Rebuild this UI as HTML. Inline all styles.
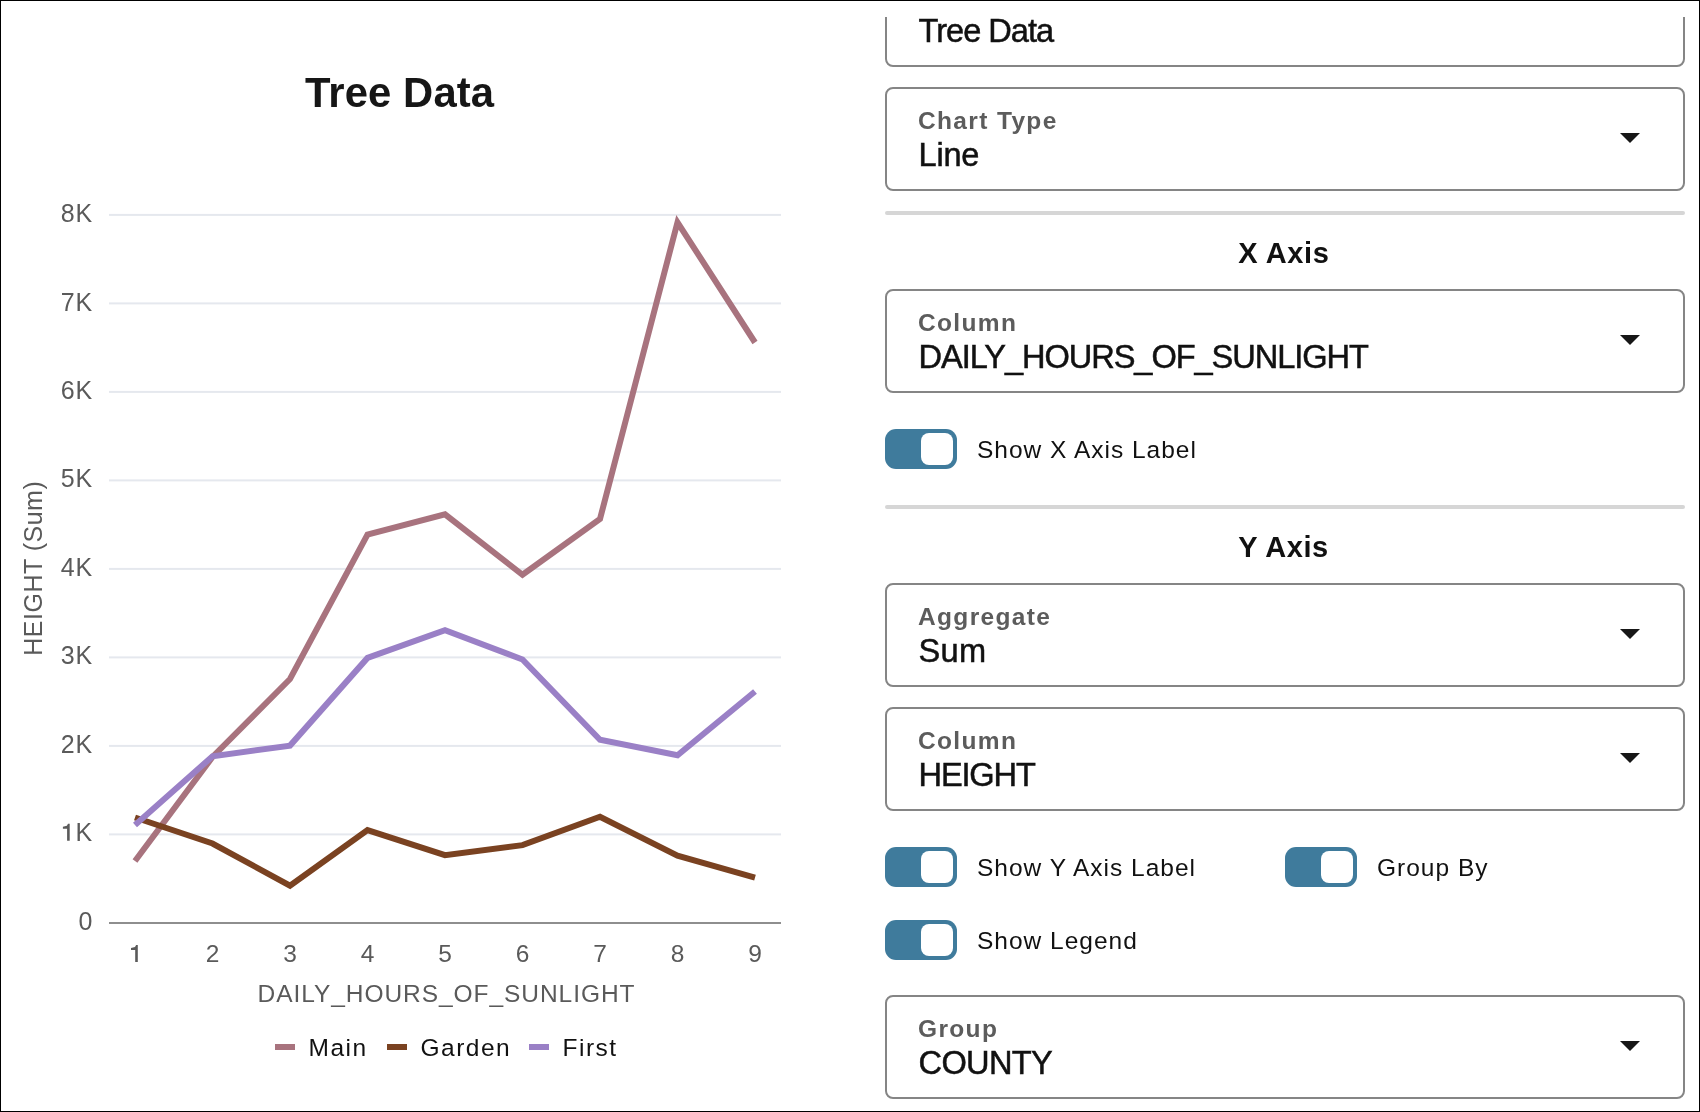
<!DOCTYPE html>
<html><head><meta charset="utf-8"><title>Tree Data chart</title>
<style>
html,body{margin:0;padding:0;background:#fff;}
body{width:1700px;height:1112px;overflow:hidden;position:relative;}
svg{display:block;font-family:"Liberation Sans", sans-serif;will-change:transform;}
.frame{position:absolute;left:0;top:0;width:1700px;height:1112px;box-sizing:border-box;border:1px solid #000;pointer-events:none;}
</style></head><body>
<svg width="1700" height="1112" viewBox="0 0 1700 1112">
<defs><clipPath id="clipTop"><rect x="0" y="17" width="1700" height="1112"/></clipPath></defs>
<rect width="1700" height="1112" fill="#fff"/>
<rect x="109" y="833.40" width="672" height="2" fill="#e5e8ee"/>
<rect x="109" y="744.90" width="672" height="2" fill="#e5e8ee"/>
<rect x="109" y="656.40" width="672" height="2" fill="#e5e8ee"/>
<rect x="109" y="567.90" width="672" height="2" fill="#e5e8ee"/>
<rect x="109" y="479.40" width="672" height="2" fill="#e5e8ee"/>
<rect x="109" y="390.90" width="672" height="2" fill="#e5e8ee"/>
<rect x="109" y="302.40" width="672" height="2" fill="#e5e8ee"/>
<rect x="109" y="213.90" width="672" height="2" fill="#e5e8ee"/>
<rect x="109" y="922" width="672" height="2" fill="#8e8e8e"/>
<text x="93.2" y="929.7" font-size="25" fill="#5a5a5a" text-anchor="end" letter-spacing="0.9">0</text>
<path d="M62.90 826.75L66.90 825.75L68.00 823.75L69.70 823.75L69.70 840.75L67.10 840.75L67.10 828.75L62.90 828.75Z" fill="#5a5a5a"/>
<text x="93.2" y="841.25" font-size="25" fill="#5a5a5a" text-anchor="end" letter-spacing="0.9">K</text>
<text x="93.2" y="752.8" font-size="25" fill="#5a5a5a" text-anchor="end" letter-spacing="0.9">2K</text>
<text x="93.2" y="664.35" font-size="25" fill="#5a5a5a" text-anchor="end" letter-spacing="0.9">3K</text>
<text x="93.2" y="575.9" font-size="25" fill="#5a5a5a" text-anchor="end" letter-spacing="0.9">4K</text>
<text x="93.2" y="487.45" font-size="25" fill="#5a5a5a" text-anchor="end" letter-spacing="0.9">5K</text>
<text x="93.2" y="399.0" font-size="25" fill="#5a5a5a" text-anchor="end" letter-spacing="0.9">6K</text>
<text x="93.2" y="310.55" font-size="25" fill="#5a5a5a" text-anchor="end" letter-spacing="0.9">7K</text>
<text x="93.2" y="222.1" font-size="25" fill="#5a5a5a" text-anchor="end" letter-spacing="0.9">8K</text>
<path d="M131.00 947.90L135.00 946.90L136.10 944.90L137.80 944.90L137.80 961.90L135.20 961.90L135.20 949.90L131.00 949.90Z" fill="#5a5a5a"/>
<text x="212.5" y="962" font-size="24.5" fill="#5a5a5a" text-anchor="middle">2</text>
<text x="290.0" y="962" font-size="24.5" fill="#5a5a5a" text-anchor="middle">3</text>
<text x="367.5" y="962" font-size="24.5" fill="#5a5a5a" text-anchor="middle">4</text>
<text x="445.0" y="962" font-size="24.5" fill="#5a5a5a" text-anchor="middle">5</text>
<text x="522.5" y="962" font-size="24.5" fill="#5a5a5a" text-anchor="middle">6</text>
<text x="600.0" y="962" font-size="24.5" fill="#5a5a5a" text-anchor="middle">7</text>
<text x="677.5" y="962" font-size="24.5" fill="#5a5a5a" text-anchor="middle">8</text>
<text x="755.0" y="962" font-size="24.5" fill="#5a5a5a" text-anchor="middle">9</text>
<text x="446" y="1002.2" font-size="24.5" fill="#5a5a5a" text-anchor="middle" textLength="377" lengthAdjust="spacing">DAILY_HOURS_OF_SUNLIGHT</text>
<text transform="translate(42,568.5) rotate(-90)" x="0" y="0" font-size="25" fill="#5a5a5a" text-anchor="middle" textLength="174.5" lengthAdjust="spacing">HEIGHT (Sum)</text>
<text x="399.5" y="107" font-size="41.8" fill="#161616" font-weight="bold" text-anchor="middle" textLength="189" lengthAdjust="spacing">Tree Data</text>
<polyline points="135.0,861.0 212.5,757.0 290.0,679.0 367.5,534.5 445.0,514.4 522.5,574.8 600.0,519.0 677.5,222.3 755.0,342.5" fill="none" stroke="#a8737e" stroke-width="6" stroke-linejoin="miter" stroke-linecap="butt"/>
<polyline points="135.0,817.5 212.5,843.5 290.0,885.6 367.5,830.1 445.0,855.2 522.5,845.1 600.0,816.7 677.5,855.7 755.0,877.7" fill="none" stroke="#7a4221" stroke-width="6" stroke-linejoin="miter" stroke-linecap="butt"/>
<polyline points="135.0,825.0 212.5,756.3 290.0,745.6 367.5,657.9 445.0,630.2 522.5,659.5 600.0,739.8 677.5,755.3 755.0,691.5" fill="none" stroke="#9a80c6" stroke-width="6" stroke-linejoin="miter" stroke-linecap="butt"/>
<rect x="275" y="1044" width="20" height="6" fill="#a8737e"/>
<text x="308.5" y="1056" font-size="24.5" fill="#111" letter-spacing="1.5">Main</text>
<rect x="387" y="1044" width="20" height="6" fill="#7a4221"/>
<text x="420.5" y="1056" font-size="24.5" fill="#111" letter-spacing="1.5">Garden</text>
<rect x="529" y="1044" width="20" height="6" fill="#9a80c6"/>
<text x="562.5" y="1056" font-size="24.5" fill="#111" letter-spacing="1.5">First</text>
<g clip-path="url(#clipTop)">
<rect x="886" y="-36" width="798" height="102" rx="7" ry="7" fill="none" stroke="#858585" stroke-width="2"/>
<text x="918.5" y="42" font-size="32.6" fill="#111" letter-spacing="-1.0" stroke="#111" stroke-width="0.5">Tree Data</text>
</g>
<rect x="886" y="88" width="798" height="102" rx="7" ry="7" fill="none" stroke="#858585" stroke-width="2"/>
<text x="918" y="129" font-size="24.5" fill="#5c5c5c" font-weight="bold" letter-spacing="1.35">Chart Type</text>
<path d="M1620 133h20l-10 10z" fill="#171717"/>
<text x="918.5" y="166" font-size="32.6" fill="#111" letter-spacing="-0.2" stroke="#111" stroke-width="0.5">Line</text>
<rect x="885" y="211" width="800" height="4" rx="2" fill="#d6d6d6"/>
<text x="1238.2" y="263" font-size="29" fill="#111" font-weight="bold" letter-spacing="0.6">X Axis</text>
<rect x="886" y="290" width="798" height="102" rx="7" ry="7" fill="none" stroke="#858585" stroke-width="2"/>
<text x="918" y="331" font-size="24.5" fill="#5c5c5c" font-weight="bold" letter-spacing="1.35">Column</text>
<path d="M1620 335h20l-10 10z" fill="#171717"/>
<text x="918.5" y="368" font-size="32.6" fill="#111" letter-spacing="-1.06" stroke="#111" stroke-width="0.5">DAILY_HOURS_OF_SUNLIGHT</text>
<rect x="885" y="429" width="72" height="40" rx="11" fill="#3f7b9c"/>
<rect x="921" y="433" width="32" height="32" rx="8" fill="#fff"/>
<text x="977" y="458" font-size="24.5" fill="#111" letter-spacing="1">Show X Axis Label</text>
<rect x="885" y="505" width="800" height="4" rx="2" fill="#d6d6d6"/>
<text x="1238.2" y="557" font-size="29" fill="#111" font-weight="bold" letter-spacing="0.6">Y Axis</text>
<rect x="886" y="584" width="798" height="102" rx="7" ry="7" fill="none" stroke="#858585" stroke-width="2"/>
<text x="918" y="625" font-size="24.5" fill="#5c5c5c" font-weight="bold" letter-spacing="1.35">Aggregate</text>
<path d="M1620 629h20l-10 10z" fill="#171717"/>
<text x="918.5" y="662" font-size="32.6" fill="#111" letter-spacing="0.3" stroke="#111" stroke-width="0.5">Sum</text>
<rect x="886" y="708" width="798" height="102" rx="7" ry="7" fill="none" stroke="#858585" stroke-width="2"/>
<text x="918" y="749" font-size="24.5" fill="#5c5c5c" font-weight="bold" letter-spacing="1.35">Column</text>
<path d="M1620 753h20l-10 10z" fill="#171717"/>
<text x="918.5" y="786" font-size="32.6" fill="#111" letter-spacing="-1.15" stroke="#111" stroke-width="0.5">HEIGHT</text>
<rect x="885" y="847" width="72" height="40" rx="11" fill="#3f7b9c"/>
<rect x="921" y="851" width="32" height="32" rx="8" fill="#fff"/>
<text x="977" y="876" font-size="24.5" fill="#111" letter-spacing="1">Show Y Axis Label</text>
<rect x="1285" y="847" width="72" height="40" rx="11" fill="#3f7b9c"/>
<rect x="1321" y="851" width="32" height="32" rx="8" fill="#fff"/>
<text x="1377" y="876" font-size="24.5" fill="#111" letter-spacing="1">Group By</text>
<rect x="885" y="920" width="72" height="40" rx="11" fill="#3f7b9c"/>
<rect x="921" y="924" width="32" height="32" rx="8" fill="#fff"/>
<text x="977" y="949" font-size="24.5" fill="#111" letter-spacing="1">Show Legend</text>
<rect x="886" y="996" width="798" height="102" rx="7" ry="7" fill="none" stroke="#858585" stroke-width="2"/>
<text x="918" y="1037" font-size="24.5" fill="#5c5c5c" font-weight="bold" letter-spacing="1.35">Group</text>
<path d="M1620 1041h20l-10 10z" fill="#171717"/>
<text x="918.5" y="1074" font-size="32.6" fill="#111" letter-spacing="-0.65" stroke="#111" stroke-width="0.5">COUNTY</text>
</svg>
<div class="frame"></div>
</body></html>
